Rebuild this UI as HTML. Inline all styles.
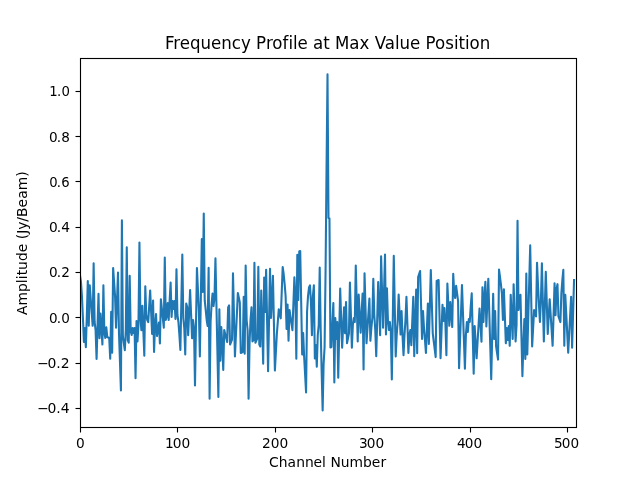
<!DOCTYPE html>
<html lang="en">
<head>
<meta charset="utf-8">
<title>Frequency Profile at Max Value Position</title>
<style>
html,body{margin:0;padding:0;background:#fff;}
body{width:640px;height:480px;overflow:hidden;}
svg{display:block;}
text{font-family:'DejaVu Sans', 'Liberation Sans', sans-serif;fill:#000;font-variant-ligatures:none;font-feature-settings:"liga" 0,"clig" 0;font-kerning:normal;}
.tl{font-size:13.889px;}
.ttl{font-size:16.667px;}
.fr{fill:none;stroke:#000;stroke-width:1.111;stroke-linecap:square;stroke-linejoin:miter;}
.tk{stroke:#000;stroke-width:1.111;fill:none;}
.ln{fill:none;stroke:#1f77b4;stroke-width:2.0833;stroke-linejoin:round;stroke-linecap:square;}
</style>
</head>
<body>
<svg width="640" height="480" viewBox="0 0 640 480">
<rect x="0" y="0" width="640" height="480" fill="#ffffff"/>
<defs><clipPath id="axclip"><rect x="80" y="57.6" width="496" height="369.6"/></clipPath></defs>
<g clip-path="url(#axclip)"><polyline class="ln" points="80.00,275.40 80.97,282.00 81.95,296.00 82.92,318.00 83.90,342.00 84.87,328.00 85.85,347.10 86.82,316.00 87.80,281.04 88.77,325.83 89.74,285.17 90.72,298.72 91.69,312.28 92.67,325.83 93.64,263.17 94.62,322.00 95.59,330.00 96.57,358.96 97.54,326.38 98.51,293.79 99.49,338.33 100.46,313.54 101.44,329.06 102.41,344.58 103.39,285.17 104.36,333.00 105.34,338.00 106.31,327.29 107.28,337.00 108.26,337.50 109.23,338.00 110.21,358.71 111.18,311.67 112.16,352.71 113.13,267.92 114.11,282.29 115.08,296.67 116.06,327.71 117.03,300.12 118.00,272.54 118.98,332.71 119.95,361.58 120.93,390.46 121.90,220.41 122.88,336.46 123.85,343.33 124.83,350.21 125.80,330.00 126.77,247.29 127.75,340.21 128.72,342.71 129.70,275.67 130.67,331.00 131.65,335.00 132.62,328.00 133.60,333.00 134.57,328.00 135.54,378.33 136.52,321.04 137.49,341.46 138.47,325.00 139.44,242.54 140.42,318.00 141.39,330.21 142.37,305.79 143.34,330.81 144.31,355.83 145.29,286.29 146.26,315.00 147.24,320.00 148.21,322.08 149.19,306.25 150.16,290.42 151.14,312.19 152.11,333.96 153.08,300.42 154.06,352.08 155.03,325.00 156.01,314.00 156.98,336.00 157.96,330.00 158.93,322.50 159.91,343.40 160.88,299.20 161.85,308.70 162.83,318.21 163.80,327.71 164.78,257.54 165.75,320.00 166.73,316.00 167.70,303.00 168.68,320.00 169.65,300.00 170.62,282.50 171.60,317.00 172.57,301.00 173.55,309.00 174.52,301.00 175.50,319.00 176.47,269.17 177.45,315.00 178.42,322.00 179.39,335.00 180.37,349.96 181.34,302.25 182.32,254.54 183.29,318.00 184.27,328.00 185.24,354.58 186.22,303.54 187.19,307.00 188.17,335.21 189.14,312.62 190.11,290.04 191.09,314.19 192.06,338.33 193.04,320.00 194.01,328.00 194.99,385.46 195.96,326.69 196.94,267.92 197.91,289.46 198.88,311.00 199.86,356.46 200.83,297.81 201.81,239.16 202.78,292.00 203.76,213.54 204.73,300.42 205.71,310.00 206.68,320.00 207.65,326.00 208.63,267.67 209.60,398.71 210.58,322.00 211.55,305.00 212.53,293.54 213.50,306.00 214.48,298.00 215.45,258.29 216.42,304.56 217.40,350.82 218.37,397.08 219.35,309.17 220.32,360.83 221.30,327.00 222.27,345.00 223.25,369.96 224.22,330.00 225.19,334.03 226.17,338.06 227.14,342.08 228.12,307.54 229.09,305.42 230.07,344.58 231.04,342.08 232.02,339.58 232.99,273.17 233.96,314.81 234.94,356.46 235.91,335.28 236.89,314.10 237.86,292.92 238.84,297.71 239.81,302.50 240.79,352.96 241.76,352.52 242.73,352.08 243.71,296.67 244.68,353.71 245.66,265.42 246.63,320.00 247.61,330.00 248.58,398.71 249.56,343.00 250.53,320.00 251.50,307.29 252.48,341.46 253.45,340.21 254.43,262.67 255.40,342.71 256.38,340.52 257.35,338.33 258.33,266.67 259.30,344.58 260.28,346.46 261.25,290.42 262.22,327.06 263.20,363.71 264.17,277.54 265.15,312.00 266.12,269.79 267.10,320.50 268.07,371.21 269.05,320.00 270.02,268.79 270.99,318.00 271.97,300.00 272.94,275.79 273.92,323.19 274.89,370.58 275.87,352.27 276.84,333.96 277.82,321.56 278.79,309.17 279.76,313.75 280.74,318.33 281.71,292.67 282.69,267.00 283.66,274.00 284.64,284.00 285.61,296.00 286.59,329.00 287.56,304.54 288.53,340.83 289.51,310.00 290.48,316.74 291.46,323.47 292.43,330.21 293.41,303.75 294.38,277.29 295.36,295.00 296.33,358.71 297.30,254.80 298.28,300.00 299.25,251.50 300.23,251.00 301.20,302.79 302.18,354.58 303.15,333.00 304.13,356.46 305.10,374.46 306.07,392.46 307.05,312.00 308.02,296.00 309.00,287.50 309.97,285.40 310.95,302.00 311.92,335.21 312.90,296.00 313.87,285.40 314.84,358.40 315.82,345.00 316.79,366.60 317.77,335.00 318.74,325.00 319.72,267.54 320.69,330.00 321.67,372.00 322.64,410.40 323.61,364.00 324.59,347.00 325.56,272.00 326.54,168.00 327.51,74.40 328.49,218.00 329.46,218.50 330.44,347.50 331.41,347.00 332.39,322.00 333.36,302.92 334.33,382.46 335.31,318.00 336.28,339.00 337.26,322.00 338.23,377.71 339.21,333.12 340.18,288.54 341.16,318.12 342.13,347.71 343.10,327.50 344.08,307.29 345.05,333.33 346.03,302.04 347.00,343.33 347.98,338.33 348.95,333.33 349.93,282.54 350.90,315.12 351.87,347.71 352.85,325.00 353.82,318.00 354.80,322.00 355.77,265.42 356.75,303.44 357.72,341.46 358.70,294.54 359.67,313.62 360.64,332.71 361.62,313.12 362.59,293.54 363.57,369.58 364.54,273.29 365.52,308.31 366.49,343.33 367.47,328.40 368.44,313.47 369.41,298.54 370.39,340.83 371.36,328.00 372.34,318.00 373.31,278.79 374.29,315.00 375.26,330.00 376.24,356.21 377.21,319.12 378.18,282.04 379.16,308.62 380.13,335.21 381.11,256.29 382.08,292.00 383.06,327.71 384.03,291.12 385.01,254.54 385.98,334.58 386.95,288.29 387.93,320.00 388.90,330.00 389.88,322.00 390.85,332.00 391.83,379.58 392.80,317.69 393.78,255.79 394.75,306.12 395.72,356.46 396.70,335.00 397.67,322.00 398.65,294.54 399.62,314.56 400.60,334.58 401.57,311.00 402.55,336.00 403.52,355.21 404.50,335.00 405.47,320.00 406.44,296.67 407.42,324.81 408.39,352.96 409.37,335.00 410.34,330.00 411.32,345.21 412.29,320.94 413.27,296.67 414.24,356.21 415.21,322.88 416.19,289.54 417.16,353.33 418.14,277.04 419.11,274.04 420.09,271.04 421.06,305.00 422.04,338.96 423.01,311.00 423.98,328.00 424.96,340.00 425.93,352.96 426.91,328.25 427.88,303.54 428.86,343.96 429.83,307.00 430.81,270.04 431.78,301.69 432.75,333.33 433.73,341.25 434.70,349.17 435.68,357.08 436.65,281.04 437.63,280.54 438.60,280.04 439.58,319.19 440.55,358.33 441.52,331.56 442.50,304.79 443.47,321.00 444.45,308.00 445.42,324.00 446.40,355.21 447.37,283.54 448.35,304.69 449.32,325.83 450.29,302.04 451.27,314.56 452.24,327.08 453.22,273.79 454.19,292.00 455.17,298.00 456.14,285.79 457.12,293.42 458.09,301.04 459.06,368.33 460.04,340.57 461.01,312.81 461.99,285.04 462.96,312.93 463.94,340.82 464.91,368.71 465.89,335.00 466.86,322.00 467.83,332.00 468.81,319.00 469.78,322.00 470.76,306.00 471.73,293.29 472.71,333.50 473.68,373.71 474.66,326.00 475.63,342.00 476.61,358.33 477.58,341.74 478.55,325.14 479.53,308.54 480.50,325.12 481.48,341.71 482.45,287.29 483.43,322.00 484.40,298.00 485.38,281.67 486.35,326.46 487.32,302.62 488.30,278.79 489.27,312.26 490.25,345.74 491.22,379.21 492.20,336.50 493.17,293.79 494.15,338.96 495.12,311.00 496.09,346.46 497.07,353.02 498.04,359.58 499.02,269.54 499.99,277.00 500.97,285.00 501.94,294.00 502.92,320.00 503.89,289.17 504.86,316.25 505.84,343.33 506.81,328.00 507.79,340.00 508.76,326.00 509.74,345.83 510.71,294.79 511.69,316.88 512.66,338.96 513.63,284.17 514.61,312.81 515.58,341.46 516.56,325.00 517.53,220.79 518.51,310.00 519.48,300.00 520.46,294.79 521.43,335.50 522.40,376.21 523.38,345.00 524.35,319.00 525.33,358.96 526.30,273.54 527.28,354.58 528.25,318.19 529.23,281.81 530.20,245.41 531.17,295.94 532.15,346.46 533.12,328.23 534.10,310.00 535.07,313.23 536.05,316.46 537.02,262.67 538.00,285.00 538.97,305.00 539.94,322.00 540.92,300.00 541.89,263.29 542.87,302.38 543.84,341.46 544.82,306.56 545.79,271.67 546.77,302.81 547.74,333.96 548.72,316.56 549.69,299.17 550.66,314.72 551.64,330.28 552.61,345.83 553.59,314.56 554.56,283.29 555.54,315.21 556.51,289.00 557.49,284.17 558.46,316.46 559.43,319.27 560.41,322.08 561.38,293.00 562.36,280.00 563.33,269.79 564.31,345.83 565.28,294.79 566.26,314.10 567.23,333.40 568.20,352.71 569.18,334.03 570.15,315.35 571.13,296.67 572.10,347.71 573.08,313.88 574.05,280.04"/></g>
<g class="tk">
<line x1="80.5" y1="427.7" x2="80.5" y2="432.5"/>
<line x1="177.5" y1="427.7" x2="177.5" y2="432.5"/>
<line x1="275.5" y1="427.7" x2="275.5" y2="432.5"/>
<line x1="372.5" y1="427.7" x2="372.5" y2="432.5"/>
<line x1="470.5" y1="427.7" x2="470.5" y2="432.5"/>
<line x1="567.5" y1="427.7" x2="567.5" y2="432.5"/>
<line x1="75.5" y1="408.5" x2="80" y2="408.5"/>
<line x1="75.5" y1="363.5" x2="80" y2="363.5"/>
<line x1="75.5" y1="317.5" x2="80" y2="317.5"/>
<line x1="75.5" y1="272.5" x2="80" y2="272.5"/>
<line x1="75.5" y1="227.5" x2="80" y2="227.5"/>
<line x1="75.5" y1="181.5" x2="80" y2="181.5"/>
<line x1="75.5" y1="136.5" x2="80" y2="136.5"/>
<line x1="75.5" y1="91.5" x2="80" y2="91.5"/>
</g>
<rect class="fr" x="80.5" y="58.5" width="496" height="369"/>
<g class="tl" text-anchor="middle">
<text class="tl" text-anchor="start" transform="translate(80.34,447.73) scale(0.9900,1.0300)" x="-4.42">0</text>
<text class="tl" text-anchor="start" transform="translate(177.29,447.66) scale(0.9900,1.0300)" x="-12.50 -4.68 4.15">100</text>
<text class="tl" text-anchor="start" transform="translate(275.17,447.65) scale(0.9900,1.0300)" x="-13.25 -4.43 4.40">200</text>
<text class="tl" text-anchor="start" transform="translate(371.20,447.63) scale(0.9850,1.0600)" x="-12.51 -4.43 4.40">300</text>
<text class="tl" text-anchor="start" transform="translate(469.14,447.60) scale(0.9800,1.0300)" x="-12.50 -4.42 4.41">400</text>
<text class="tl" text-anchor="start" transform="translate(566.13,447.74) scale(0.9800,1.0300)" x="-12.50 -4.42 4.41">500</text>
</g>
<g class="tl" text-anchor="end">
<text class="tl" text-anchor="start" transform="translate(69.68,413.17) scale(1.0050,0.9700)" x="-32.50 -22.09 -13.26 -8.84">−0.4</text>
<text class="tl" text-anchor="start" transform="translate(69.58,367.94) scale(1.0050,0.9700)" x="-32.50 -22.09 -13.26 -8.84">−0.2</text>
<text class="tl" text-anchor="start" transform="translate(69.57,322.80) scale(0.9750,1.0600)" x="-21.16 -13.24 -8.59">0.0</text>
<text class="tl" text-anchor="start" transform="translate(70.54,277.38) scale(0.9800,0.9700)" x="-22.08 -14.02 -9.60">0.2</text>
<text class="tl" text-anchor="start" transform="translate(70.83,231.83) scale(0.9900,1.0300)" x="-22.07 -14.26 -9.60">0.4</text>
<text class="tl" text-anchor="start" transform="translate(69.60,186.94) scale(0.9500,0.9700)" x="-21.34 -13.51 -8.85">0.6</text>
<text class="tl" text-anchor="start" transform="translate(70.27,141.56) scale(0.9800,1.0300)" x="-21.59 -13.76 -9.34">0.8</text>
<text class="tl" text-anchor="start" transform="translate(70.05,96.19) scale(0.9550,1.0600)" x="-21.82 -13.69 -8.84">1.0</text>
</g>
<text class="tl" text-anchor="start" transform="translate(327.58,466.53) scale(1.0000,0.9700)" x="-58.58 -48.90 -40.10 -31.34 -22.54 -14.01 -5.46 -1.60 2.81 13.18 21.98 35.50 44.07 52.85">Channel Number</text>
<text class="tl" text-anchor="start" transform="translate(27.17,243.19) rotate(-90) scale(1.0000,0.9700)" x="-71.72 -62.23 -48.72 -40.15 -36.04 -32.19 -26.75 -17.70 -9.14 -0.61 4.07 9.47 13.56 21.53 26.21 35.73 44.51 53.01 66.54">Amplitude (Jy/Beam)</text>
<text class="ttl" text-anchor="start" transform="translate(327.60,48.97) scale(0.9980,1.0700)" x="-163.05 -154.68 -148.20 -137.95 -127.38 -116.82 -106.58 -96.03 -86.86 -77.00 -71.71 -61.71 -55.48 -45.28 -39.17 -34.79 -30.17 -19.91 -14.63 -4.42 2.12 7.41 21.79 31.99 41.85 47.14 57.24 67.45 72.09 82.65 92.89 98.19 107.64 117.83 126.75 131.14 137.66 142.30 152.48">Frequency Profile at Max Value Position</text>
</svg>
</body>
</html>
